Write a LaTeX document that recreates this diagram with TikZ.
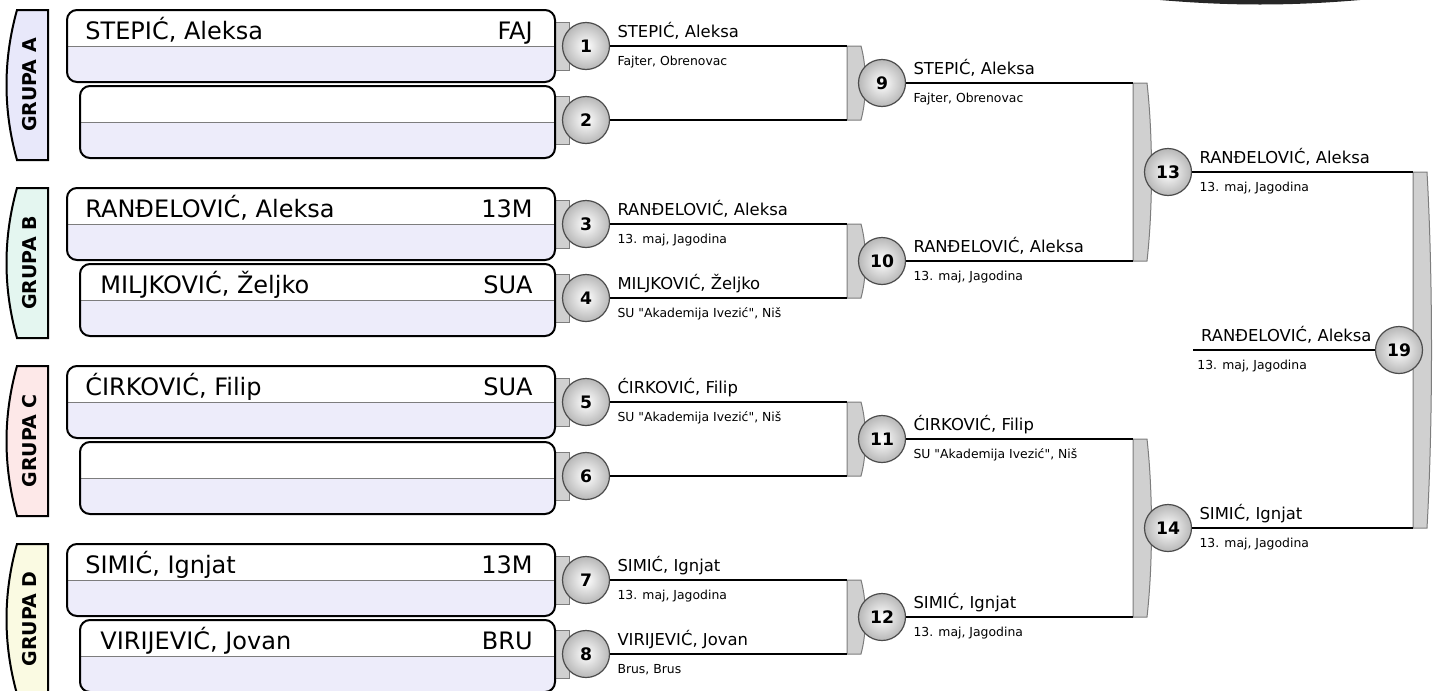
\documentclass[tikz,border=0pt]{standalone}
\usepackage{fontspec}
\setmainfont{DejaVu Sans}
\newfontfamily\plainquote{DejaVu Sans}
\usepackage{tikz}
\usetikzlibrary{calc}
\usepackage{xcolor}

\definecolor{boxlav}{RGB}{237,236,250}
\definecolor{grpA}{RGB}{232,232,250}
\definecolor{grpB}{RGB}{228,246,240}
\definecolor{grpC}{RGB}{253,232,232}
\definecolor{grpD}{RGB}{250,250,226}
\definecolor{tabgray}{RGB}{208,208,208}
\definecolor{edgegray}{RGB}{125,125,125}

\newcommand{\dq}{{\plainquote\symbol{34}}}

\tikzset{
    wire/.style={line width=1.1pt},
    matchball/.style={circle, minimum size=23.5pt, inner sep=0pt, draw=black!70, line width=0.6pt,
        shading=radial, inner color=white, outer color=black!28, font=\fontsize{8.6}{10}\selectfont\bfseries},
    pname/.style={inner sep=0pt, font=\fontsize{8.2}{10}\selectfont},
    pclub/.style={inner sep=0pt, font=\fontsize{6.2}{8}\selectfont},
    bigname/.style={inner sep=0pt, font=\fontsize{12}{14}\selectfont},
    grplabel/.style={inner sep=0pt, rotate=90, font=\fontsize{9.5}{11}\selectfont\bfseries},
}

% box for one player slot: left x, top y
\newcommand{\playerbox}[2]{%
    \begin{scope}
        \clip[rounded corners=5pt] (#1,#2) rectangle (555,#2+72);
        \fill[boxlav] (#1,#2) rectangle (555,#2+72);
        \fill[white] (#1,#2) rectangle (555,#2+36);
    \end{scope}
    \draw[edgegray, line width=0.5pt] (#1,#2+36) -- (555,#2+36);
    \draw[line width=1pt, rounded corners=5pt] (#1,#2) rectangle (555,#2+72);
}
% grey tab between box and ball: centre y
\newcommand{\slottab}[1]{%
    \filldraw[fill=tabgray, draw=edgegray, line width=0.5pt] (554,#1-24) rectangle (569,#1+24);
}
% grey joining bar: left x, top y, bottom y
\newcommand{\joinbar}[3]{%
    \filldraw[fill=tabgray, draw=edgegray, line width=0.5pt] (#1,#2) -- ({#1+14},#2)
        .. controls ({#1+20},{0.7*#2+0.3*#3}) and ({#1+20},{0.3*#2+0.7*#3}) .. ({#1+14},#3) -- (#1,#3) -- cycle;
}
% group tag on the left: top y, colour, text, name
\newcommand{\grouptag}[4]{%
    \filldraw[fill=#2, line width=1pt] (48,#1) -- (17,#1) .. controls (3,#1+50) and (3,#1+100) .. (17,#1+150) -- (48,#1+150) -- cycle;
    \node[grplabel] (#4) at (30,#1+75) {#3};
}
% winner text next to a ball
\newcommand{\matchlabel}[3]{%
    \node[pname, anchor=base west] (n#1) at ($(m#1.east)+(7,-9)$) {#2};
    \node[pclub, anchor=base west] (c#1) at ($(m#1.east)+(7,19)$) {#3};
}

\begin{document}
\begin{tikzpicture}[x=0.5pt, y=-0.5pt]
    \useasboundingbox (0,0) rectangle (1441,691);

    % scrap of logo in the corner
    \fill[black!85] (1160,0) .. controls (1230,6) and (1290,6) .. (1360,0) -- cycle;

    % groups
    \grouptag{10}{grpA}{GRUPA A}{gA}
    \grouptag{188}{grpB}{GRUPA B}{gB}
    \grouptag{366}{grpC}{GRUPA C}{gC}
    \grouptag{544}{grpD}{GRUPA D}{gD}

    % tabs and player boxes
    \foreach \y in {46,120,224,298,402,476,580,654} {\slottab{\y}}
    \foreach \y in {10,188,366,544} {
        \playerbox{67}{\y}
        \playerbox{80}{\y+76}
    }

    \node[bigname, anchor=base west] (p1) at (85,39) {STEPIĆ, Aleksa};
    \node[bigname, anchor=base east] (k1) at (533,39) {FAJ};
    \node[bigname, anchor=base west] (p3) at (85,217) {RANĐELOVIĆ, Aleksa};
    \node[bigname, anchor=base east] (k3) at (533,217) {13M};
    \node[bigname, anchor=base west] (p4) at (100,293) {MILJKOVIĆ, Željko};
    \node[bigname, anchor=base east] (k4) at (533,293) {SUA};
    \node[bigname, anchor=base west] (p5) at (85,395) {ĆIRKOVIĆ, Filip};
    \node[bigname, anchor=base east] (k5) at (533,395) {SUA};
    \node[bigname, anchor=base west] (p7) at (85,573) {SIMIĆ, Ignjat};
    \node[bigname, anchor=base east] (k7) at (533,573) {13M};
    \node[bigname, anchor=base west] (p8) at (100,649) {VIRIJEVIĆ, Jovan};
    \node[bigname, anchor=base east] (k8) at (533,649) {BRU};

    % bar ends
    \coordinate (s9) at (847,83);
    \coordinate (s10) at (847,261);
    \coordinate (s11) at (847,439);
    \coordinate (s12) at (847,617);
    \coordinate (s13) at (1133,172);
    \coordinate (s14) at (1133,528);
    \coordinate (s19) at (1413,350);
    \coordinate (e19) at (1193,350);

    \joinbar{847}{46}{120}
    \joinbar{847}{224}{298}
    \joinbar{847}{402}{476}
    \joinbar{847}{580}{654}
    \joinbar{1133}{83}{261}
    \joinbar{1133}{439}{617}
    \joinbar{1413}{172}{528}

    % balls
    \node[matchball] (m1) at (586,46) {1};
    \node[matchball] (m2) at (586,120) {2};
    \node[matchball] (m3) at (586,224) {3};
    \node[matchball] (m4) at (586,298) {4};
    \node[matchball] (m5) at (586,402) {5};
    \node[matchball] (m6) at (586,476) {6};
    \node[matchball] (m7) at (586,580) {7};
    \node[matchball] (m8) at (586,654) {8};
    \node[matchball] (m9) at (882,83) {9};
    \node[matchball] (m10) at (882,261) {10};
    \node[matchball] (m11) at (882,439) {11};
    \node[matchball] (m12) at (882,617) {12};
    \node[matchball] (m13) at (1168,172) {13};
    \node[matchball] (m14) at (1168,528) {14};
    \node[matchball] (m19) at (1399,350) {19};

    % lines
    \draw[wire] (m1.east) -- (m1.east -| s9);
    \draw[wire] (m2.east) -- (m2.east -| s9);
    \draw[wire] (m3.east) -- (m3.east -| s10);
    \draw[wire] (m4.east) -- (m4.east -| s10);
    \draw[wire] (m5.east) -- (m5.east -| s11);
    \draw[wire] (m6.east) -- (m6.east -| s11);
    \draw[wire] (m7.east) -- (m7.east -| s12);
    \draw[wire] (m8.east) -- (m8.east -| s12);
    \draw[wire] (m9.east) -- (m9.east -| s13);
    \draw[wire] (m10.east) -- (m10.east -| s13);
    \draw[wire] (m11.east) -- (m11.east -| s14);
    \draw[wire] (m12.east) -- (m12.east -| s14);
    \draw[wire] (m13.east) -- (m13.east -| s19);
    \draw[wire] (m14.east) -- (m14.east -| s19);
    \draw[wire] (m19.west) -- (e19);

    % winners
    \matchlabel{1}{STEPIĆ, Aleksa}{Fajter, Obrenovac}
    \matchlabel{3}{RANĐELOVIĆ, Aleksa}{13. maj, Jagodina}
    \matchlabel{4}{MILJKOVIĆ, Željko}{SU \dq Akademija Ivezić\dq, Niš}
    \matchlabel{5}{ĆIRKOVIĆ, Filip}{SU \dq Akademija Ivezić\dq, Niš}
    \matchlabel{7}{SIMIĆ, Ignjat}{13. maj, Jagodina}
    \matchlabel{8}{VIRIJEVIĆ, Jovan}{Brus, Brus}
    \matchlabel{9}{STEPIĆ, Aleksa}{Fajter, Obrenovac}
    \matchlabel{10}{RANĐELOVIĆ, Aleksa}{13. maj, Jagodina}
    \matchlabel{11}{ĆIRKOVIĆ, Filip}{SU \dq Akademija Ivezić\dq, Niš}
    \matchlabel{12}{SIMIĆ, Ignjat}{13. maj, Jagodina}
    \matchlabel{13}{RANĐELOVIĆ, Aleksa}{13. maj, Jagodina}
    \matchlabel{14}{SIMIĆ, Ignjat}{13. maj, Jagodina}
    \node[pname, anchor=base east] (n19) at ($(m19.west)+(-3,-9)$) {RANĐELOVIĆ, Aleksa};
    \node[pclub, anchor=base west] (c19) at ($(e19)+(4,19)$) {13. maj, Jagodina};
\end{tikzpicture}
\end{document}
